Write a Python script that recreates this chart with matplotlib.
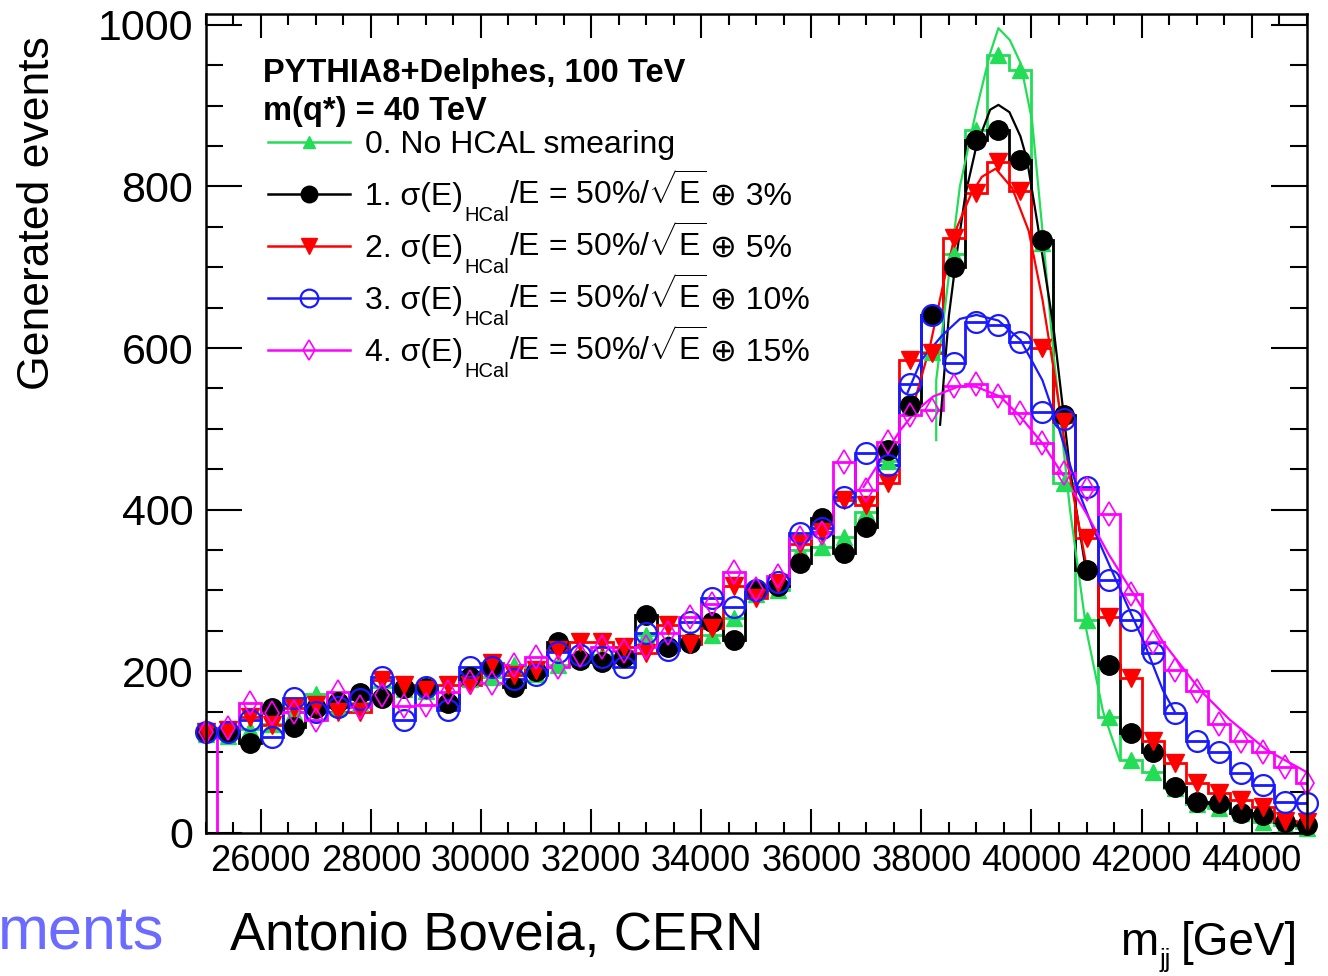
import numpy as np
import matplotlib
matplotlib.use('Agg')
import matplotlib.pyplot as plt
from matplotlib.lines import Line2D
from matplotlib.ticker import MultipleLocator

plt.rcParams['font.family'] = ['Liberation Sans', 'DejaVu Sans']
plt.rcParams['mathtext.fontset'] = 'custom'
plt.rcParams['mathtext.rm'] = 'Liberation Sans'
plt.rcParams['mathtext.it'] = 'Liberation Sans:italic'
plt.rcParams['mathtext.bf'] = 'Liberation Sans:bold'

# ---- data ----
bin_lo, bin_width, n_bins = 24800, 400, 51
edges = bin_lo + bin_width * np.arange(n_bins + 1)
centers = edges[:-1] + bin_width / 2

hist_green = [122, 120, 128, 135, 150, 172, 155, 160, 180, 178,
              175, 165, 190, 193, 207, 197, 207, 215, 220, 220,
              245, 235, 240, 245, 266, 295, 300, 350, 354, 366,
              397, 460, 530, 595, 717, 870, 963, 944, 730, 433,
              263, 143, 90, 75, 55, 35, 30, 25, 13, 10,
              6]
hist_black = [125, 125, 111, 154, 131, 154, 162, 173, 167, 179,
              179, 160, 193, 205, 180, 200, 236, 214, 211, 218,
              270, 230, 235, 261, 238, 300, 305, 334, 389, 346,
              379, 474, 529, 641, 700, 857, 870, 833, 734, 517,
              325, 207, 123, 100, 57, 38, 37, 25, 22, 13,
              10]
hist_red = [125, 127, 143, 133, 154, 158, 150, 149, 189, 183,
            177, 183, 183, 210, 195, 201, 226, 236, 236, 230,
            222, 257, 234, 253, 306, 290, 309, 358, 372, 412,
            406, 433, 585, 594, 736, 792, 830, 795, 600, 509,
            365, 267, 191, 114, 86, 61, 49, 40, 32, 15,
            13]
hist_blue = [125, 125, 140, 118, 167, 150, 155, 165, 193, 139,
             180, 152, 205, 205, 190, 195, 224, 220, 218, 205,
             247, 226, 261, 290, 280, 300, 310, 371, 377, 415,
             470, 455, 555, 641, 581, 632, 628, 607, 521, 512,
             428, 313, 263, 222, 148, 114, 100, 74, 59, 38,
             37]
hist_magenta = [125, 130, 160, 148, 150, 139, 174, 155, 170, 157,
                158, 174, 186, 185, 207, 218, 205, 220, 230, 225,
                230, 247, 267, 283, 323, 302, 318, 365, 371, 459,
                424, 484, 517, 523, 553, 555, 540, 520, 482, 445,
                425, 395, 296, 236, 201, 176, 135, 113, 100, 81,
                61]

# fitted curves (sampled by eye along the thin lines)
fit_green_x = [38270, 38270, 38500, 38700, 39000, 39250, 39400, 39610, 39800, 40010, 40210, 40400, 40700, 41000, 41300, 41600]
fit_green_y = [486, 560, 690, 800, 895, 965, 996, 981, 953, 882, 738, 593, 400, 250, 150, 90]
fit_black_x = [38340, 38500, 38650, 38800, 39000, 39250, 39400, 39600, 39800, 39920, 40100, 40400, 40700, 41000]
fit_black_y = [505, 640, 720, 790, 850, 895, 901, 892, 862, 833, 758, 626, 450, 320]
fit_red_x = [37900, 38150, 38400, 38650, 38900, 39100, 39350, 39650, 39950, 40200, 40400, 40700, 41000]
fit_red_y = [540, 600, 680, 750, 790, 812, 822, 798, 745, 660, 575, 440, 330]
fit_blue_x = [37750, 38000, 38370, 38700, 39000, 39400, 39800, 40200, 40500, 40825, 41100, 41430, 41750, 42030, 42390, 42600]
fit_blue_y = [545, 585, 615, 636, 641, 634, 610, 560, 500, 428, 380, 329, 280, 238, 176, 150]
fit_magenta_x = [36950, 37300, 37615, 37900, 38215, 38700, 39000, 39430, 39800, 40200, 40600, 41000, 41400, 41850, 42400, 43070, 43600, 44280, 45000]
fit_magenta_y = [428, 465, 498, 522, 540, 553, 552, 540, 515, 482, 440, 395, 345, 296, 235, 176, 140, 102, 75]
magenta_edge_x = 25200

smear_const = ['3%', '5%', '10%', '15%']

series = [
    dict(h=hist_green, fx=fit_green_x, fy=fit_green_y, color='#22dd55',
         marker='^', ms=11, mfc='#22dd55', mew=1.0),
    dict(h=hist_black, fx=fit_black_x, fy=fit_black_y, color='black',
         marker='o', ms=14, mfc='black', mew=1.0),
    dict(h=hist_red, fx=fit_red_x, fy=fit_red_y, color='#ff0000',
         marker='v', ms=13, mfc='#ff0000', mew=1.0),
    dict(h=hist_blue, fx=fit_blue_x, fy=fit_blue_y, color='#1a1aff',
         marker='o', ms=15, mfc='none', mew=1.6),
    dict(h=hist_magenta, fx=fit_magenta_x, fy=fit_magenta_y, color='#ff00ff',
         marker='d', ms=12, mfc='none', mew=1.2),
]

W, H = 1328, 976
fig = plt.figure(figsize=(W / 100, H / 100), dpi=100)
ax = fig.add_axes([205.7 / W, 1 - 832.7 / H, (1306.7 - 205.7) / W, (832.7 - 14) / H])

# histograms + fits
for s in series:
    ax.stairs(s['h'], edges, baseline=None, color=s['color'], lw=2.0)
    ax.plot(s['fx'], s['fy'], color=s['color'], lw=1.6)
ax.plot([magenta_edge_x, magenta_edge_x], [0, hist_magenta[1]], color='#ff00ff', lw=2.0)
for s in series:
    ax.plot(centers, s['h'], ls='none', marker=s['marker'], ms=s['ms'],
            mfc=s['mfc'], mec=s['color'], mew=s['mew'], clip_on=False)

ax.set_xlim(25000, 45000)
ax.set_ylim(0, 1013.5)
ax.xaxis.set_major_locator(MultipleLocator(2000))
ax.xaxis.set_minor_locator(MultipleLocator(500))
ax.yaxis.set_major_locator(MultipleLocator(200))
ax.yaxis.set_minor_locator(MultipleLocator(50))
ax.ticklabel_format(useOffset=False, style='plain')
ax.tick_params(which='both', direction='in', top=True, right=True, width=1.5, color='black')
ax.tick_params(axis='x', which='major', length=17, pad=8, labelsize=26)
ax.tick_params(axis='x', which='minor', length=8)
ax.tick_params(axis='y', which='major', length=26, pad=9, labelsize=31)
ax.tick_params(axis='y', which='minor', length=12)
for sp in ax.spines.values():
    sp.set_linewidth(1.8)

# legend (drawn by hand, ROOT style)
fig.text(263 / W, 1 - 82 / H, 'PYTHIA8+Delphes, 100 TeV', fontsize=23.5, fontweight='bold', va='baseline')
fig.text(263 / W, 1 - 120 / H, 'm(q*) = 40 TeV', fontsize=23.5, fontweight='bold', va='baseline')

renderer = fig.canvas.get_renderer()


def put_text(x_px, base_px, txt, size):
    t = fig.text(x_px / W, 1 - base_px / H, txt, fontsize=size, va='baseline')
    bb = t.get_window_extent(renderer=renderer)
    return x_px + bb.width


leg_y = [142, 194, 246, 298, 350]
for i, (s, yy) in enumerate(zip(series, leg_y)):
    fy = 1 - yy / H
    fig.add_artist(Line2D([268 / W, 350 / W], [fy, fy], color=s['color'], lw=1.8))
    fig.add_artist(Line2D([309 / W], [fy], ls='none', marker=s['marker'], ms=s['ms'] * 0.85,
                          mfc=s['mfc'], mec=s['color'], mew=s['mew']))
    base = yy + 11
    if i == 0:
        put_text(365, base, '0. No HCAL smearing', 23)
    else:
        x = put_text(365, base, '%d. σ(E)' % i, 23)
        x = put_text(x + 1, base + 16, 'HCal', 14.5)
        x = put_text(x, base, r'/E = 50%/$\sqrt{\mathrm{E}}$', 23)
        put_text(x + 4, base, '⊕ ' + smear_const[i - 1], 23)

# axis titles and footer
fig.text(38 / W, 1 - 213 / H, 'Generated events', rotation=90, fontsize=32, va='center', ha='center')
x = put_text(1120, 955, 'm', 33)
x = put_text(x + 1, 967, 'jj', 18)
put_text(x + 10, 955, '[GeV]', 33)
fig.text(230 / W, 1 - 950 / H, 'Antonio Boveia, CERN', fontsize=38, va='baseline')
fig.text(-2 / W, 1 - 950 / H, 'ments', fontsize=44, va='baseline', color='#6b6bff')

fig.savefig('out.png', dpi=100)
